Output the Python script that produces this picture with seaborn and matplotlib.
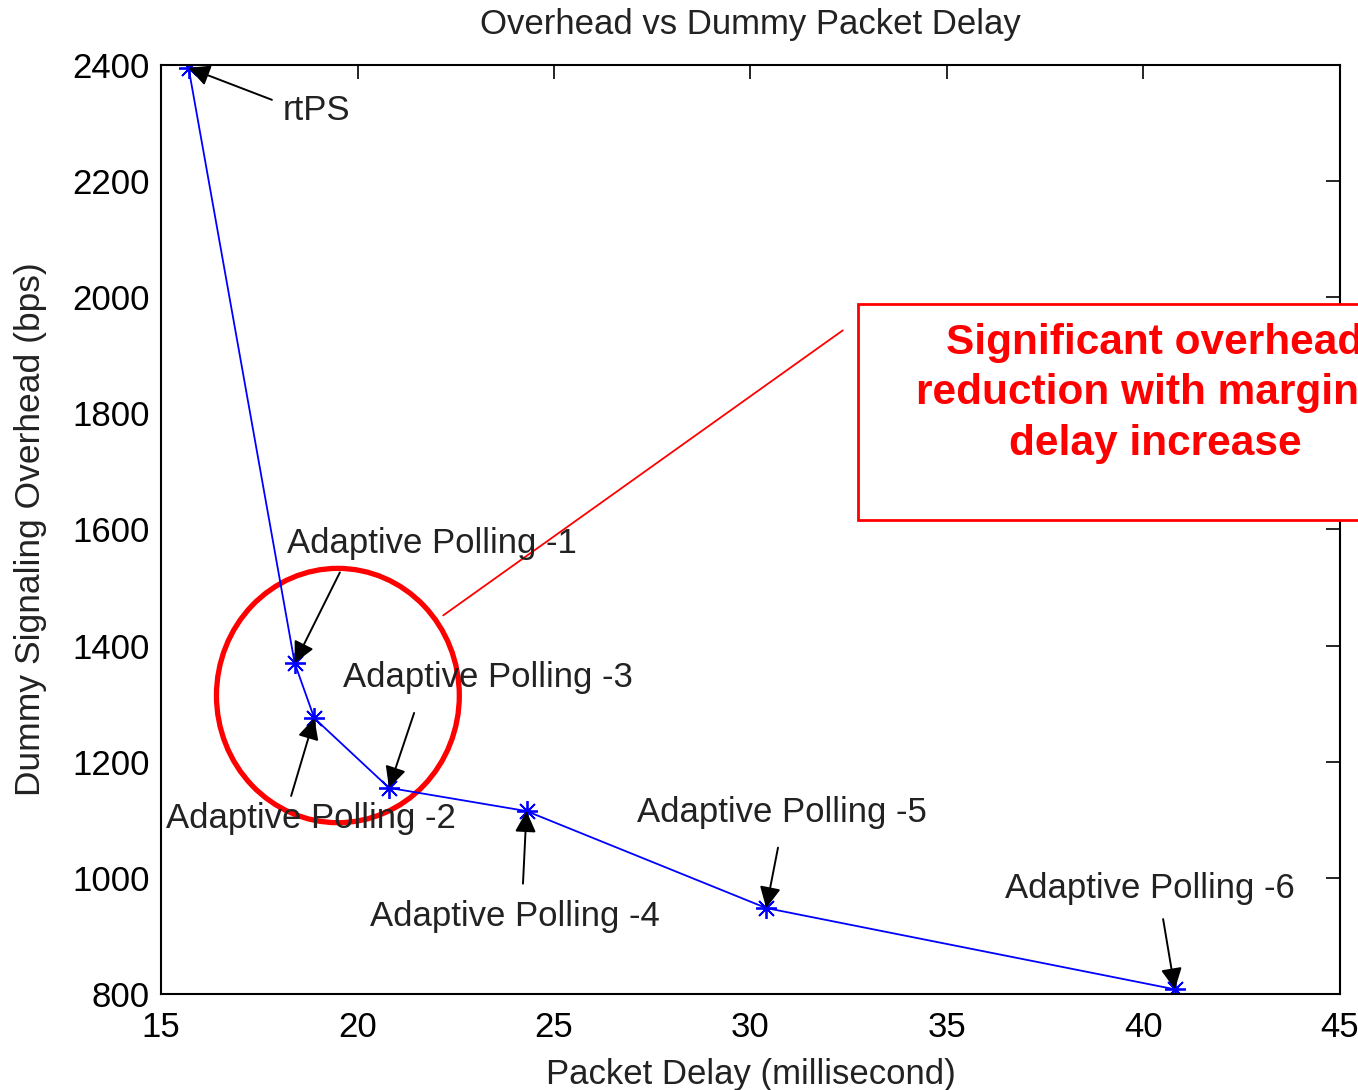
import matplotlib
matplotlib.use("Agg")
import matplotlib.pyplot as plt
from matplotlib.patches import Ellipse, Rectangle
import seaborn as sns

# data
delay = [15.7, 18.4, 18.9, 20.8, 24.3, 30.4, 40.8]
overhead = [2395, 1370, 1275, 1155, 1115, 948, 808]
labels = ["rtPS", "Adaptive Polling -1", "Adaptive Polling -2", "Adaptive Polling -3",
          "Adaptive Polling -4", "Adaptive Polling -5", "Adaptive Polling -6"]

# label text positions and arrow tails (data coords)
label_pos = [(18.1, 2322), (18.2, 1576), (15.13, 1102), (19.63, 1345),
             (20.32, 934), (27.11, 1112), (36.48, 981)]
arrow_tail = [(17.82, 2340), (19.55, 1526), (18.31, 1141), (21.44, 1284),
              (24.21, 990), (30.70, 1052), (40.50, 929)]

x_ticks = [15, 20, 25, 30, 35, 40, 45]
y_ticks = [800, 1000, 1200, 1400, 1600, 1800, 2000, 2200, 2400]

sns.set_style("white")
plt.rcParams["font.family"] = ["Liberation Sans", "DejaVu Sans"]

fig = plt.figure(figsize=(13.58, 10.9), dpi=100)
ax = fig.add_axes([0.1186, 0.0881, 0.8681, 0.8523])

sns.lineplot(x=delay, y=overhead, ax=ax, color="blue", marker=(8, 2, 0), markersize=15,
             markeredgecolor="blue", markeredgewidth=1.3, linewidth=1.3, sort=False)

ax.set_xlim(15, 45)
ax.set_ylim(800, 2400)
ax.set_xticks(x_ticks)
ax.set_yticks(y_ticks)
ax.tick_params(direction="in", length=10, width=1.2, labelsize=25, colors="black",
               top=True, right=True, pad=8)
ax.tick_params(axis="x", pad=12)
for s in ax.spines.values():
    s.set_color("black")
    s.set_linewidth(1.5)

ax.set_title("Overhead vs Dummy Packet Delay", fontsize=25, pad=22, color="#222222")
ax.set_xlabel("Packet Delay (millisecond)", fontsize=25, labelpad=10, color="#222222")
ax.set_ylabel("Dummy Signaling Overhead (bps)", fontsize=25.5, labelpad=18, color="#222222")

for lab, (tx, ty), (ax0, ay0), px, py in zip(labels, label_pos, arrow_tail, delay, overhead):
    ax.annotate("", xy=(px, py), xytext=(ax0, ay0),
                arrowprops=dict(arrowstyle="-|>", color="black", lw=1.4,
                                mutation_scale=32, shrinkA=0, shrinkB=0))
    ax.text(tx, ty, lab, fontsize=25, ha="left", va="center", color="#222222")

# red circle + pointer line
ax.add_patch(Ellipse((19.5, 1314), 6.18, 438, fill=False, edgecolor="red", lw=3.8))
ax.plot([22.18, 32.35], [1452, 1943], color="red", lw=1.3)

# callout box (runs off the right edge, as in the original slide)
fig.add_artist(Rectangle((0.6318, 0.523), 0.45, 0.198, transform=fig.transFigure,
                         facecolor="white", edgecolor="red", lw=2, zorder=10))
fig.text(0.8505, 0.6394, "Significant overhead\nreduction with marginal\ndelay increase",
         ha="center", va="center", fontsize=30.5, fontweight="bold", color="red",
         linespacing=1.34, zorder=11)

fig.savefig("out.png", dpi=100)
